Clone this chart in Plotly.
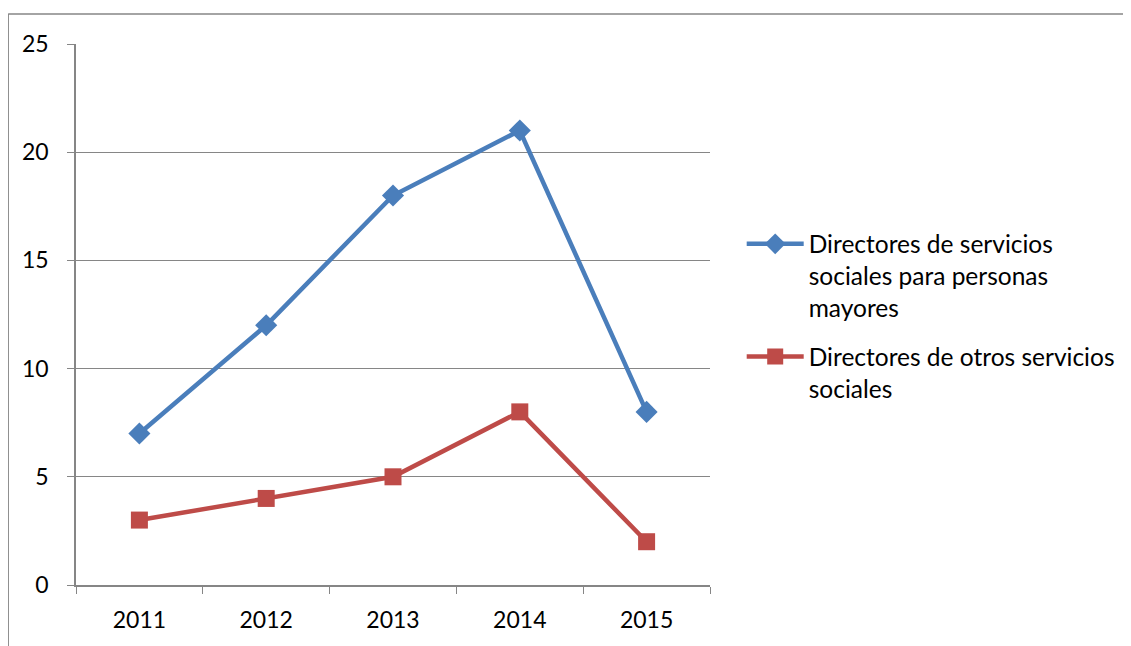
import plotly.graph_objects as go

years = ["2011", "2012", "2013", "2014", "2015"]
mayores = [7, 12, 18, 21, 8]
otros = [3, 4, 5, 8, 2]

name_mayores = "Directores de servicios<br>sociales para personas<br>mayores"
name_otros = "Directores de otros servicios<br>sociales"

grey = "#868686"
font = dict(family="Lato, Liberation Sans, sans-serif", size=23, color="black")

fig = go.Figure()
fig.add_trace(go.Scatter(
    x=years, y=mayores, name=name_mayores, mode="lines+markers",
    legendgroup="a",
    line=dict(color="#4A7EBB", width=4.5),
    marker=dict(symbol="diamond", size=17, color="#4A7EBB"),
))
fig.add_trace(go.Scatter(
    x=years, y=otros, name=name_otros, mode="lines+markers",
    legendgroup="b",
    line=dict(color="#BE4B48", width=4.5),
    marker=dict(symbol="square", size=17, color="#BE4B48"),
))

# page body adds 8px offset, margins compensate for it
fig.update_layout(
    width=1131, height=646,
    margin=dict(l=68, r=429, t=36, b=69),
    paper_bgcolor="white", plot_bgcolor="white",
    font=font,
    showlegend=True,
    legend=dict(x=1.05, y=0.672, xanchor="left", yanchor="top",
                font=dict(size=24.5), itemwidth=57, valign="top",
                tracegroupgap=14, bgcolor="rgba(0,0,0,0)"),
    xaxis=dict(type="category", tickson="boundaries", ticks="outside",
               ticklen=7, tickcolor=grey, showline=True, linecolor=grey,
               linewidth=1.5, showgrid=False, range=[-0.5, 4.5],
               ticklabelstandoff=14),
    yaxis=dict(range=[0, 25], dtick=5, ticks="outside", ticklen=7,
               tickcolor=grey, showline=True, linecolor=grey, linewidth=1.5,
               showgrid=True, gridcolor=grey, gridwidth=1.2, zeroline=False,
               ticklabelstandoff=14),
    shapes=[
        dict(type="line", xref="paper", yref="paper", x0=-0.107, x1=-0.107,
             y0=-0.2, y1=1.0555, line=dict(color=grey, width=1.5)),
        dict(type="line", xref="paper", yref="paper", x0=-0.107, x1=1.7,
             y0=1.0555, y1=1.0555, line=dict(color=grey, width=1.5)),
    ],
)

fig.write_html("out.html")
